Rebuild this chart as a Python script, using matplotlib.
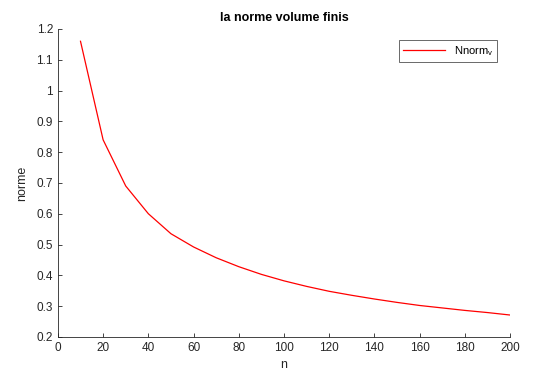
import matplotlib
matplotlib.use("Agg")
import matplotlib.pyplot as plt

n = [10, 20, 30, 40, 50, 60, 70, 80, 90, 100,
     110, 120, 130, 140, 150, 160, 170, 180, 190, 200]
norme = [1.16, 0.84, 0.69, 0.60, 0.535, 0.492, 0.457, 0.428, 0.403, 0.382,
         0.364, 0.348, 0.335, 0.323, 0.312, 0.302, 0.294, 0.286, 0.279, 0.271]

plt.rcParams['font.family'] = ['Liberation Sans', 'DejaVu Sans']
plt.rcParams['mathtext.fontset'] = 'custom'
plt.rcParams['mathtext.rm'] = 'Liberation Sans'

fig = plt.figure(figsize=(5.41, 3.76), dpi=100)
ax = fig.add_axes([0.107, 0.104, 0.836, 0.819])
ax.plot(n, norme, color='red', linewidth=0.9, label=r'Nnorm$_{\mathrm{v}}$')

ax.set_xlim(0, 200)
ax.set_ylim(0.2, 1.2)
ax.set_xticks(range(0, 201, 20))
ax.set_yticks([0.2, 0.3, 0.4, 0.5, 0.6, 0.7, 0.8, 0.9, 1.0, 1.1, 1.2])
ax.set_yticklabels(['0.2', '0.3', '0.4', '0.5', '0.6', '0.7', '0.8', '0.9', '1', '1.1', '1.2'])
ax.spines['top'].set_visible(False)
ax.spines['right'].set_visible(False)
for s in ['left', 'bottom']:
    ax.spines[s].set_color('#262626')
    ax.spines[s].set_linewidth(0.6)
ax.tick_params(direction='in', length=3, width=0.6, colors='#262626', labelsize=8.5)

ax.set_title('la norme volume finis', fontsize=9, fontweight='bold', pad=6)
ax.set_xlabel('n', fontsize=9, color='#262626')
ax.set_ylabel('norme', fontsize=9, color='#262626', labelpad=6)

leg = ax.legend(loc='upper right', bbox_to_anchor=(0.983, 0.982), fontsize=8,
                fancybox=False, handlelength=3.8, borderpad=0.35)
leg.get_frame().set_edgecolor('#262626')
leg.get_frame().set_linewidth(0.6)

fig.savefig('out.png', dpi=100)
